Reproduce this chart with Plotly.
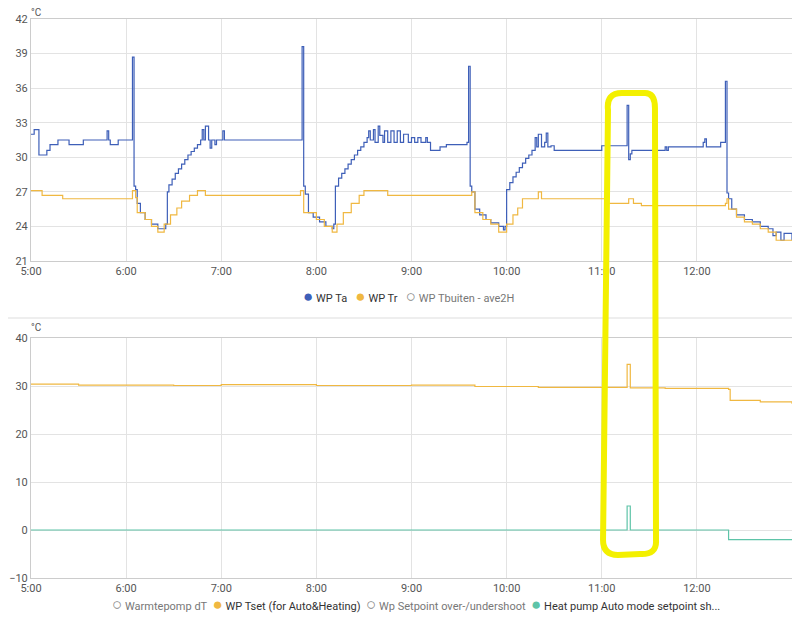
import plotly.graph_objects as go

DAY = "2024-01-01 "

# hour ticks shown on both time axes
hours = ["05:00", "06:00", "07:00", "08:00", "09:00", "10:00", "11:00", "12:00"]

# WP Ta (blue) step series
ta_t = ["05:00", "05:02", "05:05", "05:10", "05:12", "05:17", "05:24", "05:33", "05:48", "05:49",
        "05:50", "05:55", "06:04", "06:05", "06:06", "06:07", "06:09", "06:12", "06:16", "06:20",
        "06:25", "06:26", "06:27", "06:29", "06:31", "06:33", "06:35", "06:37", "06:39", "06:41",
        "06:43", "06:45", "06:47", "06:48", "06:49", "06:50", "06:52", "06:53", "06:54", "06:56",
        "06:57", "07:00", "07:01", "07:02", "07:40", "07:41", "07:50", "07:51", "07:52", "07:53",
        "07:55", "07:58", "08:02", "08:06", "08:10", "08:11", "08:12", "08:14", "08:16", "08:18",
        "08:20", "08:22", "08:24", "08:26", "08:28", "08:30", "08:32", "08:33", "08:34", "08:36",
        "08:37", "08:39", "08:40", "08:42", "08:43", "08:45", "08:47", "08:49", "08:51", "08:53",
        "08:55", "08:58", "09:00", "09:02", "09:04", "09:06", "09:09", "09:10", "09:12", "09:18",
        "09:22", "09:35", "09:36", "09:37", "09:38", "09:40", "09:43", "09:47", "09:50", "09:55",
        "09:58", "09:59", "10:00", "10:02", "10:04", "10:06", "10:08", "10:10", "10:12", "10:14",
        "10:16", "10:18", "10:19", "10:20", "10:22", "10:24", "10:25", "10:26", "10:28", "10:30",
        "10:58", "11:00", "11:15", "11:16", "11:17", "11:18", "11:19", "11:21", "11:34", "11:40",
        "11:41", "11:42", "12:04", "12:05", "12:06", "12:08", "12:15", "12:18", "12:19", "12:20",
        "12:22", "12:25", "12:30", "12:35", "12:40", "12:45", "12:48", "12:50", "12:53", "12:55",
        "13:00"]
ta_v = [32.0, 32.4, 30.2, 30.6, 31.1, 31.5, 31.1, 31.5, 32.3, 31.5,
        31.1, 31.5, 38.7, 27.5, 27.2, 26.0, 25.2, 24.6, 24.2, 23.8,
        24.2, 27.0, 27.6, 28.1, 28.6, 29.0, 29.4, 29.8, 30.2, 30.5,
        30.8, 31.1, 31.5, 32.4, 31.5, 32.7, 31.5, 30.8, 31.5, 31.1,
        31.5, 31.5, 32.3, 31.5, 31.5, 31.5, 31.5, 39.6, 27.5, 26.8,
        25.2, 24.8, 24.4, 24.0, 23.8, 24.2, 27.5, 28.2, 28.6, 29.0,
        29.4, 29.8, 30.2, 30.6, 30.9, 31.3, 31.7, 32.3, 31.5, 32.4,
        31.3, 32.7, 31.9, 31.3, 32.3, 31.3, 32.3, 31.3, 32.3, 31.3,
        32.0, 31.3, 31.7, 31.3, 31.7, 31.3, 31.7, 31.3, 30.6, 30.9,
        31.1, 31.3, 37.9, 27.5, 27.0, 25.5, 25.0, 24.6, 24.3, 24.0,
        23.7, 24.0, 27.2, 27.8, 28.3, 28.7, 29.1, 29.5, 29.9, 30.2,
        30.6, 31.7, 30.9, 32.0, 30.9, 31.3, 32.1, 30.9, 31.0, 30.6,
        30.6, 31.0, 31.0, 34.5, 29.8, 30.3, 30.6, 30.6, 30.6, 30.9,
        30.6, 30.9, 31.3, 31.6, 30.9, 30.9, 31.3, 36.6, 26.9, 26.4,
        25.5, 25.0, 24.6, 24.4, 24.0, 23.8, 23.2, 23.5, 22.8, 23.4,
        22.8]

# WP Tr (yellow) step series
tr_t = ["05:00", "05:07", "05:20", "06:03", "06:04", "06:06", "06:07", "06:12", "06:16", "06:20",
        "06:24", "06:28", "06:32", "06:35", "06:40", "06:45", "06:50", "07:49", "07:50", "07:52",
        "08:00", "08:05", "08:10", "08:13", "08:17", "08:22", "08:27", "08:30", "08:45", "09:37",
        "09:38", "09:40", "09:45", "09:50", "09:55", "10:00", "10:04", "10:07", "10:10", "10:20",
        "10:22", "11:00", "11:02", "11:17", "11:20", "11:25", "12:18", "12:19", "12:20", "12:25",
        "12:30", "12:35", "12:40", "12:45", "12:50", "13:00"]
tr_v = [27.1, 26.7, 26.4, 26.4, 27.1, 26.5, 25.2, 24.6, 24.0, 23.5,
        24.2, 25.0, 25.6, 26.2, 26.7, 27.1, 26.7, 26.7, 27.1, 25.2,
        24.6, 24.0, 23.5, 24.2, 25.2, 26.0, 26.7, 27.1, 26.7, 26.7,
        27.0, 25.2, 24.6, 24.2, 23.5, 24.2, 25.0, 25.6, 26.4, 27.0,
        26.4, 26.4, 26.0, 26.4, 26.0, 25.8, 26.0, 26.4, 25.5, 24.8,
        24.4, 24.2, 23.8, 23.5, 22.8, 22.8]

# WP Tset (bottom, yellow)
ts_t = ["05:00", "05:30", "06:30", "07:00", "08:00", "09:00", "09:40", "10:20", "11:00", "11:16",
        "11:18", "11:40", "12:20", "12:21", "12:40", "13:00"]
ts_v = [30.4, 30.2, 30.1, 30.3, 30.1, 30.2, 29.9, 29.7, 29.7, 34.5,
        29.6, 29.5, 29.3, 27.0, 26.7, 26.3]

# Heat pump Auto mode setpoint shift (bottom, teal)
hp_t = ["05:00", "11:16", "11:18", "12:20", "13:00"]
hp_v = [0, 5, 0, -2, -2]

BLUE = "#3e5fb8"
YEL = "#f0b841"
TEAL = "#5ec4a8"
GRID = "#e3e3e3"
TXT = "#555555"
OFF = 8  # page body margin

def fx(x):
    return (x - OFF) / 800

def fy(y):
    return 1 - (y - OFF) / 629

fig = go.Figure()
for xs, ys, col, xa, ya in [(ta_t, ta_v, BLUE, "x", "y"), (tr_t, tr_v, YEL, "x", "y"),
                            (ts_t, ts_v, YEL, "x2", "y2"), (hp_t, hp_v, TEAL, "x2", "y2")]:
    fig.add_trace(go.Scatter(x=[DAY + t for t in xs], y=ys, mode="lines",
                             line=dict(color=col, width=1.2, shape="hv"),
                             xaxis=xa, yaxis=ya, showlegend=False))

xcommon = dict(type="date", range=[DAY + "05:00", DAY + "13:00"],
               tickvals=[DAY + h for h in hours], ticktext=[h.lstrip("0") for h in hours],
               showgrid=True, gridcolor=GRID, showline=True, linecolor="#cccccc", mirror=True,
               tickfont=dict(size=11, color=TXT), ticks="", domain=[fx(31), fx(792)], automargin=False)
ycommon = dict(showgrid=True, gridcolor=GRID, showline=True, linecolor="#cccccc", zeroline=False,
               tickfont=dict(size=11, color=TXT), ticks="", automargin=False)

fig.update_layout(
    width=800, height=629, margin=dict(l=0, r=0, t=0, b=0),
    paper_bgcolor="white", plot_bgcolor="white",
    font=dict(family="Roboto", color=TXT),
    xaxis=dict(xcommon, anchor="y"),
    yaxis=dict(ycommon, range=[21, 42], dtick=3, domain=[fy(261), fy(19)], anchor="x"),
    xaxis2=dict(xcommon, anchor="y2"),
    yaxis2=dict(ycommon, range=[-10, 40], dtick=10, domain=[fy(578), fy(338)], anchor="x2"),
)

for yy in (12, 327):
    fig.add_annotation(text="°C", x=fx(29), y=fy(yy), xref="paper", yref="paper",
                       showarrow=False, xanchor="left", yanchor="middle", font=dict(size=10, color=TXT))

def dot(c, filled=True):
    if filled:
        return "<span style='color:%s;font-size:17px'>●</span>" % c
    return "<span style='color:#888;font-size:17px'>○</span>"

top_leg = (dot(BLUE) + " <span style='color:#333'>WP Ta</span>   " + dot(YEL) +
           " <span style='color:#333'>WP Tr</span>   " + dot("", False) + " WP Tbuiten - ave2H")
bot_leg = (dot("", False) + " Warmtepomp dT  " + dot(YEL) + " <span style='color:#333'>WP Tset (for Auto&amp;Heating)</span>  " +
           dot("", False) + " Wp Setpoint over-/undershoot  " + dot(TEAL) +
           " <span style='color:#333'>Heat pump Auto mode setpoint sh...</span>")
fig.add_annotation(text=top_leg, x=fx(408), y=fy(296), xref="paper", yref="paper", showarrow=False,
                   font=dict(size=11, color="#777"))
fig.add_annotation(text=bot_leg, x=fx(416), y=fy(616), xref="paper", yref="paper", showarrow=False,
                   font=dict(size=11, color="#777"))

# divider between the two cards
fig.add_shape(type="line", xref="paper", yref="paper", x0=0, x1=1, y0=fy(318), y1=fy(318),
              line=dict(color="#dddddd", width=1))

# hand-drawn yellow highlight
def px(x, y):
    return "%.4f,%.4f" % (fx(x), fy(y))
path = ("M " + px(608, 110) + " Q " + px(606, 93) + " " + px(622, 93) + " L " + px(645, 93) +
        " Q " + px(655, 93) + " " + px(655, 108) + " L " + px(656, 540) + " Q " + px(657, 555) + " " +
        px(640, 554) + " L " + px(618, 555) + " Q " + px(603, 555) + " " + px(603, 540) + " Z")
fig.add_shape(type="path", xref="paper", yref="paper", path=path, line=dict(color="#f3f000", width=6))

fig.write_html("out.html")
